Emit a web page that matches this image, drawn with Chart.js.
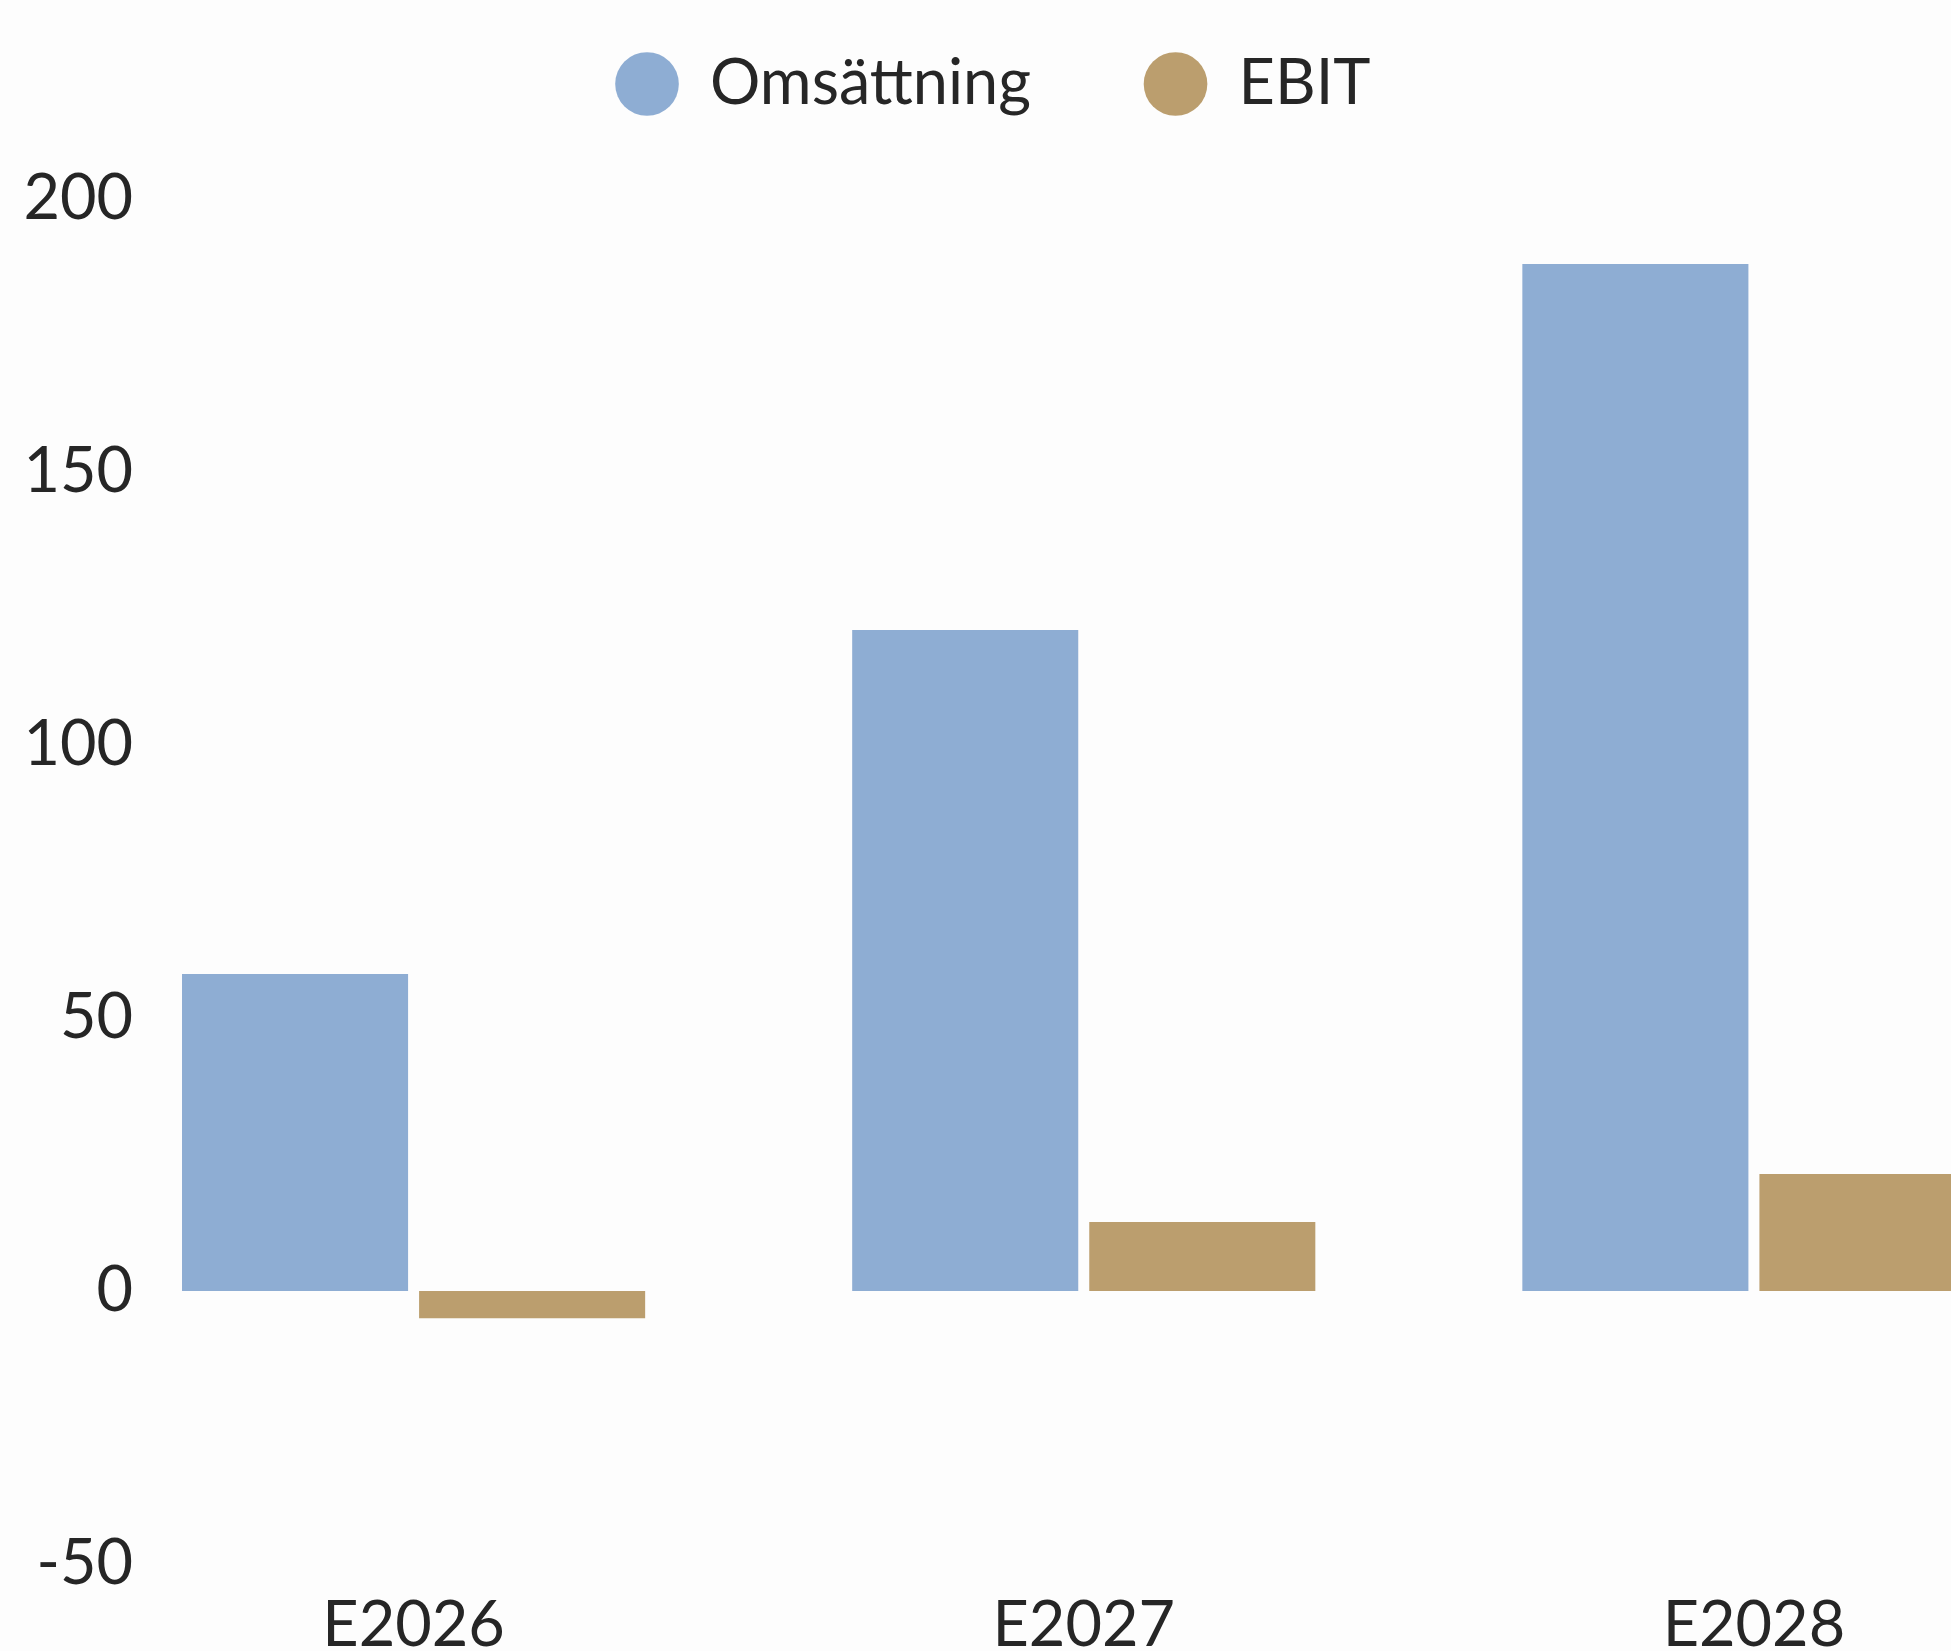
<!DOCTYPE html>
<html><head><meta charset="utf-8">
<script src="https://cdn.jsdelivr.net/npm/chart.js@4"></script>
<style>
html,body{margin:0;padding:0;background:#fdfdfd;overflow:hidden;width:1951px;height:1651px}
canvas{display:block}
</style></head>
<body><canvas id="c" width="2089" height="1651"></canvas>
<script>
const categories = ['E2026', 'E2027', 'E2028'];
const seriesNames = ['Omsättning', 'EBIT'];
const omsattning = [58, 121, 188];
const ebit = [-5, 12.6, 21.4];
const yTicks = [-50, 0, 50, 100, 150, 200];

const FONT = 'Lato';
const FONT_SIZE = 63;
const TEXT_COLOR = '#262626';
const LEGEND_GAP = 113;
const CHART_TOP = 198.5;
const CHART_BOTTOM = 1564;
const CANVAS_H = 1651;
const Y_AXIS_W = 78.5;
const Y_LABEL_RIGHT = 133;

// widest y label, for right-aligned mirrored labels
const mctx = document.createElement('canvas').getContext('2d');
mctx.font = FONT_SIZE + 'px ' + FONT;
const widestY = Math.max(...yTicks.map(v => mctx.measureText(String(v)).width));

const legendPlace = {
  id: 'legendPlace',
  afterLayout(chart) {
    const lg = chart.legend;
    const pad = lg.options.labels.padding;
    const dy = 84 - (lg.top + pad + FONT_SIZE / 2);
    const dx = 993 - (lg.left + lg.right) / 2;
    lg.top += dy; lg.bottom += dy; lg.left += dx; lg.right += dx;
  }
};

new Chart(document.getElementById('c'), {
  type: 'bar',
  data: {
    labels: categories,
    datasets: [
      { label: seriesNames[0], data: omsattning, backgroundColor: '#8eadd3', borderWidth: 0 },
      { label: seriesNames[1], data: ebit, backgroundColor: '#bb9e6e', borderWidth: 0 }
    ]
  },
  options: {
    responsive: false,
    animation: false,
    events: [],
    categoryPercentage: 0.7075,
    barPercentage: 0.9536,
    layout: { padding: { top: CHART_TOP - (FONT_SIZE + LEGEND_GAP + 10), left: 0, right: 0, bottom: 0 } },
    plugins: {
      tooltip: { enabled: false },
      legend: {
        position: 'top',
        labels: {
          usePointStyle: true,
          pointStyle: 'circle',
          boxWidth: 63,
          boxHeight: 45,
          padding: LEGEND_GAP,
          color: TEXT_COLOR,
          font: { family: FONT, size: FONT_SIZE }
        }
      }
    },
    scales: {
      x: {
        grid: { display: false },
        border: { display: false },
        ticks: { color: TEXT_COLOR, font: { family: FONT, size: FONT_SIZE }, padding: 16, maxRotation: 0 },
        afterFit(s) { s.height = CANVAS_H - CHART_BOTTOM; }
      },
      y: {
        min: yTicks[0],
        max: yTicks[yTicks.length - 1],
        grid: { display: false },
        border: { display: false },
        ticks: {
          stepSize: yTicks[1] - yTicks[0],
          color: TEXT_COLOR,
          font: { family: FONT, size: FONT_SIZE },
          mirror: true,
          crossAlign: 'far',
          padding: Y_LABEL_RIGHT - Y_AXIS_W - widestY
        },
        afterFit(s) { s.width = Y_AXIS_W; }
      }
    }
  },
  plugins: [legendPlace]
});
</script>
</body></html>
